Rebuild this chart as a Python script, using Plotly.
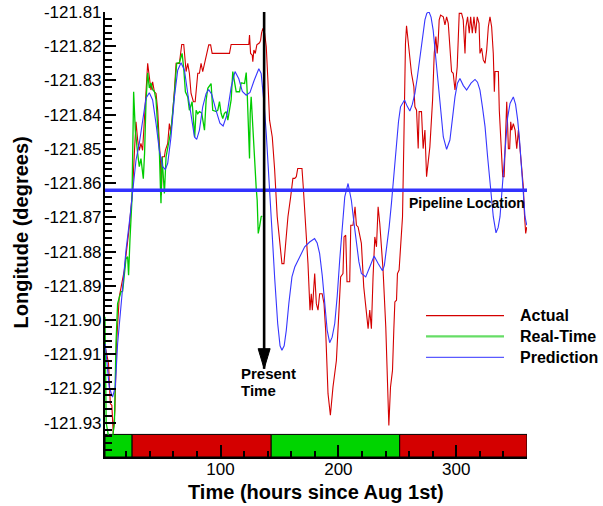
import plotly.graph_objects as go

# ---------------- data ----------------
actual_hours = [2.0, 2.8, 5.0, 6.5, 7.8, 9.0, 10.4, 11.8, 14.1, 18.4, 22.6, 25.4, 26.9, 28.3, 29.7, 31.1, 32.5, 33.9, 35.4, 36.8,
                38.2, 39.6, 41.0, 42.4, 43.9, 45.3, 46.7, 48.1, 49.0, 49.8, 50.7, 52.4, 53.2, 55.2, 56.6, 57.7, 58.9, 60.9, 62.3, 65.1,
                67.1, 68.8, 69.6, 70.8, 72.2, 73.6, 75.0, 77.0, 78.5, 80.7, 82.1, 83.5, 84.9, 86.4, 87.8, 90.0, 91.6, 92.9, 107.6, 109.0,
                124.0, 124.6, 125.5, 126.9, 127.4, 128.3, 129.5, 130.8, 133.1, 134.0, 134.8, 135.9, 137.4, 138.8, 140.2, 141.6, 143.9, 145.9, 148.1, 150.1,
                152.1, 153.8, 155.2, 157.2, 159.5, 161.4, 163.0, 164.3, 165.5, 167.1, 169.1, 170.2, 171.4, 172.8, 174.2, 175.9, 177.0, 177.9, 179.0, 179.9,
                181.3, 182.7, 184.1, 186.2, 187.8, 189.2, 191.2, 193.2, 195.4, 198.3, 200.5, 201.9, 203.9, 204.8, 206.2, 207.3, 209.6, 210.5, 212.4, 214.1,
                215.3, 216.7, 218.1, 219.5, 221.5, 223.8, 225.2, 226.6, 228.0, 229.4, 230.9, 232.3, 233.7, 235.1, 236.5, 237.9, 240.2, 241.6, 242.8, 244.2,
                245.9, 247.0, 247.9, 249.3, 250.1, 251.5, 252.7, 254.4, 255.5, 256.9, 257.8, 260.0, 262.0, 264.0, 264.9, 266.3, 267.7, 268.5, 270.5, 271.9,
                273.4, 274.8, 276.2, 277.6, 279.9, 281.3, 282.7, 283.8, 284.7, 285.5, 286.7, 289.0, 290.4, 291.8, 293.2, 294.6, 296.0, 297.4, 298.9, 300.8,
                302.5, 304.5, 305.9, 307.4, 308.2, 309.6, 311.0, 312.2, 313.6, 315.0, 316.4, 317.8, 319.3, 320.1, 321.5, 322.9, 324.4, 325.8, 327.2, 328.6,
                330.0, 331.4, 332.3, 332.9, 335.7, 336.5, 337.7, 339.4, 340.6, 342.2, 342.8, 343.6, 344.2, 345.3, 346.2, 347.0, 348.4, 349.9, 351.3, 352.7,
                353.5, 355.5, 356.9, 357.8, 358.9, 359.8]
actual_lon = [-121.9080, -121.9088, -121.9127, -121.9244, -121.9249, -121.9332, -121.9264, -121.9069, -121.8932, -121.8854, -121.8728, -121.8620, -121.8513, -121.8421, -121.8474, -121.8504, -121.8484, -121.8504, -121.8416, -121.8318,
              -121.8250, -121.8289, -121.8328, -121.8304, -121.8333, -121.8338, -121.8387, -121.8484, -121.8533, -121.8635, -121.8523, -121.8523, -121.8504, -121.8484, -121.8426, -121.8450, -121.8416, -121.8328, -121.8250, -121.8250,
              -121.8195, -121.8195, -121.8240, -121.8274, -121.8250, -121.8279, -121.8338, -121.8362, -121.8362, -121.8279, -121.8279, -121.8250, -121.8274, -121.8250, -121.8221, -121.8196, -121.8196, -121.8221, -121.8221, -121.8195,
              -121.8195, -121.8167, -121.8221, -121.8226, -121.8245, -121.8211, -121.8221, -121.8196, -121.8190, -121.8183, -121.8162, -121.8148, -121.8162, -121.8201, -121.8300, -121.8416, -121.8465, -121.8560, -121.8698, -121.8776,
              -121.8835, -121.8835, -121.8776, -121.8698, -121.8640, -121.8586, -121.8586, -121.8581, -121.8557, -121.8557, -121.8557, -121.8611, -121.8679, -121.8776, -121.8835, -121.8971, -121.8923, -121.8971, -121.8893, -121.8864,
              -121.8952, -121.8971, -121.8923, -121.8923, -121.8952, -121.9030, -121.9215, -121.9278, -121.9196, -121.9118, -121.8971, -121.8874, -121.8864, -121.8757, -121.8752, -121.8888, -121.8888, -121.8723, -121.8723, -121.8669,
              -121.8723, -121.8728, -121.8752, -121.8776, -121.8903, -121.8971, -121.9025, -121.8971, -121.9025, -121.8874, -121.8757, -121.8786, -121.8669, -121.8718, -121.8776, -121.8854, -121.9020, -121.9186, -121.9308, -121.9196,
              -121.9147, -121.9030, -121.8947, -121.8942, -121.8864, -121.8854, -121.8796, -121.8698, -121.8484, -121.8192, -121.8140, -121.8211, -121.8279, -121.8318, -121.8377, -121.8387, -121.8499, -121.8391, -121.8391, -121.8499,
              -121.8445, -121.8581, -121.8542, -121.8494, -121.8357, -121.8221, -121.8172, -121.8221, -121.8182, -121.8123, -121.8109, -121.8114, -121.8138, -121.8114, -121.8133, -121.8201, -121.8274, -121.8279, -121.8328, -121.8260,
              -121.8104, -121.8104, -121.8123, -121.8221, -121.8143, -121.8114, -121.8162, -121.8114, -121.8162, -121.8114, -121.8162, -121.8114, -121.8133, -121.8221, -121.8206, -121.8240, -121.8250, -121.8211, -121.8143, -121.8114,
              -121.8143, -121.8221, -121.8333, -121.8274, -121.8274, -121.8387, -121.8474, -121.8581, -121.8581, -121.8435, -121.8362, -121.8435, -121.8499, -121.8499, -121.8421, -121.8445, -121.8426, -121.8445, -121.8499, -121.8445,
              -121.8474, -121.8542, -121.8611, -121.8689, -121.8747, -121.8728]

realtime_hours = [2.0, 3.0, 5.0, 8.5, 10.0, 11.3, 12.7, 15.5, 17.0, 18.4, 19.8, 21.2, 22.0, 23.2, 24.9, 26.3, 27.7, 29.7, 31.1, 32.5,
                  33.4, 34.5, 35.6, 36.8, 38.2, 39.6, 41.0, 42.4, 43.9, 45.3, 46.7, 48.1, 49.0, 49.5, 50.4, 51.5, 52.4, 53.8, 55.2, 58.0,
                  60.9, 62.8, 65.1, 67.4, 68.8, 70.2, 72.2, 73.6, 75.9, 77.0, 78.1, 79.3, 80.7, 82.1, 84.0, 86.4, 87.8, 89.2, 92.0, 93.4,
                  96.3, 97.7, 99.1, 100.5, 101.9, 103.3, 104.8, 106.2, 107.6, 109.0, 110.4, 111.9, 113.3, 116.1, 117.5, 120.4, 121.8, 122.6, 123.8, 124.6,
                  125.2, 126.0, 127.4, 128.9, 130.3, 131.1, 132.0, 133.1, 134.5, 135.4]
realtime_lon = [-121.8990, -121.9300, -121.9340, -121.9340, -121.9300, -121.9069, -121.8952, -121.8918, -121.8915, -121.8870, -121.8821, -121.8815, -121.8869, -121.8763, -121.8646, -121.8333, -121.8445, -121.8513, -121.8552, -121.8528,
                -121.8552, -121.8587, -121.8510, -121.8361, -121.8278, -121.8322, -121.8307, -121.8327, -121.8332, -121.8357, -121.8435, -121.8504, -121.8611, -121.8659, -121.8523, -121.8591, -121.8630, -121.8523, -121.8494, -121.8445,
                -121.8338, -121.8250, -121.8248, -121.8221, -121.8265, -121.8333, -121.8348, -121.8387, -121.8362, -121.8416, -121.8465, -121.8387, -121.8397, -121.8391, -121.8395, -121.8445, -121.8357, -121.8323, -121.8309, -121.8387,
                -121.8391, -121.8387, -121.8362, -121.8396, -121.8411, -121.8396, -121.8391, -121.8416, -121.8387, -121.8357, -121.8274, -121.8299, -121.8333, -121.8333, -121.8307, -121.8309, -121.8277, -121.8333, -121.8474, -121.8528,
                -121.8396, -121.8348, -121.8435, -121.8552, -121.8616, -121.8650, -121.8747, -121.8728, -121.8698, -121.8696]

prediction_hours = [2.2, 5.6, 8.4, 10.7, 12.7, 15.5, 19.8, 23.2, 25.4, 28.3, 31.1, 33.9, 36.8, 39.6, 42.4, 45.3, 48.1, 50.9, 53.2, 55.2,
                    58.0, 60.9, 63.7, 66.5, 69.4, 72.2, 75.0, 77.9, 79.8, 82.1, 84.9, 87.8, 90.0, 92.5, 96.0, 99.5, 102.2, 105.5, 109.0, 112.3,
                    115.5, 118.5, 121.8, 125.0, 128.5, 132.5, 134.5, 135.4, 137.0, 138.8, 141.0, 143.5, 146.0, 148.5, 150.5, 152.1, 154.0, 155.8, 158.0, 160.6,
                    163.0, 165.7, 168.5, 171.4, 175.6, 179.8, 182.0, 184.1, 186.3, 188.4, 190.5, 192.6, 194.7, 196.9, 199.0, 201.1, 203.2, 205.4, 208.2, 211.0,
                    213.0, 215.3, 217.4, 219.5, 223.2, 226.6, 230.3, 233.7, 237.4, 239.0, 240.8, 243.0, 245.0, 247.0, 249.3, 251.0, 252.7, 256.1, 258.3, 260.6,
                    262.7, 264.9, 267.0, 269.1, 271.2, 273.4, 275.0, 276.8, 278.6, 280.4, 282.5, 284.7, 287.0, 289.0, 291.8, 294.6, 296.8, 298.9, 301.0, 303.1,
                    306.0, 308.8, 312.5, 315.9, 318.0, 320.1, 322.3, 324.4, 326.5, 328.6, 331.4, 333.7, 335.5, 337.1, 339.3, 341.4, 343.5, 345.6, 348.4, 350.3,
                    352.1, 353.8, 355.5, 357.0, 358.3, 359.8]
prediction_lon = [-121.9069, -121.9196, -121.9225, -121.9196, -121.9069, -121.8952, -121.8796, -121.8698, -121.8620, -121.8533, -121.8484, -121.8416, -121.8352, -121.8336, -121.8357, -121.8426, -121.8504, -121.8552, -121.8560, -121.8542,
                  -121.8465, -121.8348, -121.8270, -121.8248, -121.8270, -121.8338, -121.8406, -121.8465, -121.8472, -121.8445, -121.8377, -121.8338, -121.8327, -121.8340, -121.8385, -121.8425, -121.8433, -121.8400, -121.8320, -121.8274,
                  -121.8295, -121.8332, -121.8343, -121.8335, -121.8300, -121.8266, -121.8280, -121.8309, -121.8370, -121.8455, -121.8600, -121.8730, -121.8880, -121.9010, -121.9075, -121.9088, -121.9075, -121.9030, -121.8950, -121.8874,
                  -121.8845, -121.8825, -121.8805, -121.8786, -121.8772, -121.8762, -121.8775, -121.8806, -121.8870, -121.8952, -121.9030, -121.9066, -121.9050, -121.9010, -121.8930, -121.8825, -121.8730, -121.8640, -121.8601, -121.8650,
                  -121.8710, -121.8776, -121.8830, -121.8864, -121.8874, -121.8845, -121.8813, -121.8835, -121.8856, -121.8840, -121.8796, -121.8730, -121.8659, -121.8570, -121.8484, -121.8420, -121.8377, -121.8357, -121.8375, -121.8389,
                  -121.8370, -121.8338, -121.8290, -121.8230, -121.8170, -121.8123, -121.8104, -121.8099, -121.8115, -121.8153, -121.8230, -121.8309, -121.8395, -121.8465, -121.8501, -121.8474, -121.8410, -121.8348, -121.8308, -121.8294,
                  -121.8315, -121.8328, -121.8308, -121.8297, -121.8305, -121.8328, -121.8380, -121.8435, -121.8520, -121.8601, -121.8698, -121.8745, -121.8730, -121.8698, -121.8590, -121.8484, -121.8410, -121.8367, -121.8348, -121.8370,
                  -121.8416, -121.8480, -121.8562, -121.8640, -121.8698, -121.8723]

PIPELINE_LON = -121.8621
PRESENT_TIME = 137.0
ARROW_TIP_LON = -121.9142

# status bar segments along the time axis
seg_start = [2, 25, 143, 252]
seg_end = [25, 143, 252, 360]
seg_color = ["#00d400", "#d40000", "#00d400", "#d40000"]
BAR_TOP_LON = -121.9334

x_range = [2, 360]
y_range = [-121.94, -121.81]
y_tickvals = [-121.81, -121.82, -121.83, -121.84, -121.85, -121.86, -121.87, -121.88, -121.89, -121.90, -121.91, -121.92, -121.93]
y_ticktext = ["-121.81", "-121.82", "-121.83", "-121.84", "-121.85", "-121.86", "-121.87", "-121.88", "-121.89", "-121.90", "-121.91", "-121.92", "-121.93"]
x_tickvals = [100, 200, 300]
x_ticktext = ["100", "200", "300"]

RED = "#d40000"
GREEN = "#00cc00"
BLUE = "#3636ff"
FONT = "Liberation Sans, Arial, Helvetica, sans-serif"

fig = go.Figure()
fig.add_trace(go.Scatter(x=actual_hours, y=actual_lon, mode="lines", name="Actual",
                         line=dict(color=RED, width=1.1), showlegend=False))
fig.add_trace(go.Scatter(x=realtime_hours, y=realtime_lon, mode="lines", name="Real-Time",
                         line=dict(color=GREEN, width=1.3), showlegend=False))
fig.add_trace(go.Scatter(x=prediction_hours, y=prediction_lon, mode="lines", name="Prediction",
                         line=dict(color=BLUE, width=1.1), showlegend=False))

shapes = []
for s, e, c in zip(seg_start, seg_end, seg_color):
    shapes.append(dict(type="rect", xref="x", yref="y", x0=s, x1=e, y0=y_range[0], y1=BAR_TOP_LON,
                       fillcolor=c, line=dict(color="black", width=1), layer="below"))
# pipeline line
shapes.append(dict(type="line", xref="paper", yref="y", x0=0, x1=1, y0=PIPELINE_LON, y1=PIPELINE_LON,
                   line=dict(color="#3333ff", width=3.5), layer="above"))
# present-time arrow
shapes.append(dict(type="line", xref="x", yref="y", x0=PRESENT_TIME, x1=PRESENT_TIME, y0=y_range[1], y1=ARROW_TIP_LON,
                   line=dict(color="black", width=2.6), layer="above"))
shapes.append(dict(type="path", xref="x", yref="y", xsizemode="pixel", ysizemode="pixel",
                   xanchor=PRESENT_TIME, yanchor=ARROW_TIP_LON, path="M-6,20 L6,20 L0,0 Z",
                   fillcolor="black", line=dict(color="black", width=1), layer="above"))

# manual legend
legend_items = [("Actual", RED, 1.2, 0.3175), ("Real-Time", "#66dd66", 2.2, 0.2712), ("Prediction", "#5a5aff", 1.2, 0.2240)]
annotations = []
for name, col, w, yy in legend_items:
    shapes.append(dict(type="line", xref="paper", yref="paper", x0=0.7607, x1=0.9455, y0=yy, y1=yy,
                       line=dict(color=col, width=w)))
    annotations.append(dict(xref="paper", yref="paper", x=0.9787, y=yy, xanchor="left", yanchor="middle",
                            text="<b>%s</b>" % name, showarrow=False, font=dict(family=FONT, size=16, color="black")))

annotations.append(dict(xref="x", yref="y", x=258, y=PIPELINE_LON, xanchor="left", yanchor="middle", yshift=-13,
                        text="<b>Pipeline Location</b>", showarrow=False, font=dict(family=FONT, size=14, color="black")))
# "Present Time" label, two lines under the arrow tip
for line_text, shift in (("Present", 6), ("Time", -11)):
    annotations.append(dict(xref="x", yref="y", x=PRESENT_TIME, y=ARROW_TIP_LON, xanchor="left", yanchor="top",
                            xshift=-25, yshift=shift, text="<b>%s</b>" % line_text, align="left", showarrow=False,
                            font=dict(family=FONT, size=15, color="black")))
annotations.append(dict(xref="paper", yref="paper", x=0.5, y=-0.0780, xanchor="center", yanchor="middle",
                        text="<b>Time (hours since Aug 1st)</b>", showarrow=False,
                        font=dict(family=FONT, size=20, color="black")))
annotations.append(dict(xref="paper", yref="paper", x=-0.1967, y=0.5045, xanchor="center", yanchor="middle",
                        text="<b>Longitude (degrees)</b>", textangle=-90, showarrow=False,
                        font=dict(family=FONT, size=20, color="black")))

fig.update_layout(
    width=603, height=506,
    margin=dict(l=105, r=76, t=12, b=49, autoexpand=False),
    paper_bgcolor="white", plot_bgcolor="white",
    shapes=shapes, annotations=annotations, showlegend=False,
    font=dict(family=FONT, color="black"),
)
fig.update_xaxes(range=x_range, tickvals=x_tickvals, ticktext=x_ticktext, ticks="inside", ticklen=12, tickwidth=2,
                 tickcolor="black", showline=True, linewidth=2, linecolor="black", showgrid=False, zeroline=False,
                 automargin=False,
                 tickfont=dict(family=FONT, size=17, color="black"), ticklabelstandoff=-4,
                 minor=dict(ticks="inside", dtick=20, tick0=0, ticklen=6, tickwidth=1.5, tickcolor="black", showgrid=False))
fig.update_yaxes(range=y_range, tickvals=y_tickvals, ticktext=y_ticktext, ticks="inside", ticklen=11, tickwidth=2,
                 tickcolor="black", showline=True, linewidth=2, linecolor="black", showgrid=False, zeroline=False,
                 automargin=False,
                 tickfont=dict(family=FONT, size=17, color="black"), ticklabelstandoff=-2,
                 minor=dict(ticks="inside", dtick=0.002, tick0=-121.81, ticklen=7, tickwidth=1.5, tickcolor="black", showgrid=False))

# remove the default 8px page margin so the figure sits at the window's top-left corner
fig.write_html("out.html", config={"displayModeBar": False},
               post_script="document.body.style.margin='0px';")
